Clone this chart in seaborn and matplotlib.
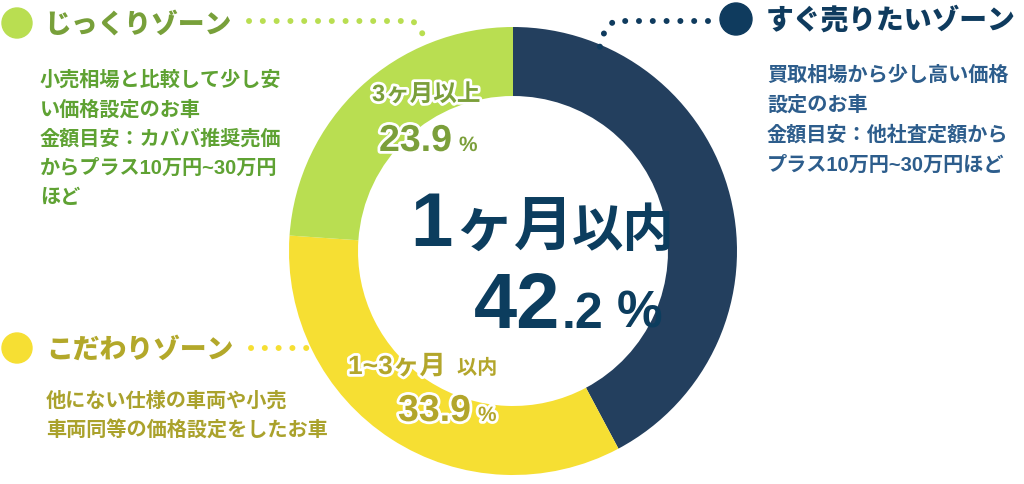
import matplotlib
matplotlib.use("Agg")
import matplotlib.pyplot as plt
import matplotlib.patheffects as pe
import seaborn as sns

sns.set_theme(style="white")
plt.rcParams['font.family'] = ['Noto Sans CJK JP', 'DejaVu Sans']

# ---- data ----
segments = ["1ヶ月以内", "1~3ヶ月以内", "3ヶ月以上"]
shares = [42.2, 33.9, 23.9]
seg_colors = ["#233f5e", "#f6df33", "#b9de51"]

zone_titles = ["すぐ売りたいゾーン", "こだわりゾーン", "じっくりゾーン"]
zone_desc = [
    ["買取相場から少し高い価格", "設定のお車", "金額目安：他社査定額から", "プラス10万円~30万円ほど"],
    ["他にない仕様の車両や小売", "車両同等の価格設定をしたお車"],
    ["小売相場と比較して少し安", "い価格設定のお車", "金額目安：カババ推奨売価", "からプラス10万円~30万円", "ほど"],
]
title_colors = ["#0f3b5e", "#b3a82a", "#78a03a"]
desc_colors = ["#2d5d8c", "#aaa22c", "#5fa233"]
label_colors = ["#0c3d5e", "#b3a62b", "#7b9f3a"]

SANS = ['Liberation Sans', 'Noto Sans CJK JP', 'DejaVu Sans']
CJK = ['Noto Sans CJK JP', 'DejaVu Sans']

W, H = 1024, 485
fig = plt.figure(figsize=(W / 100, H / 100), dpi=100)
ax = fig.add_axes([0, 0, 1, 1])

cx, cy, R = 513, 252, 224
ax.pie(shares, colors=seg_colors, startangle=270, counterclock=True,
       center=(cx, cy), radius=R, wedgeprops=dict(width=69, linewidth=0))
ax.set_xlim(0, W)
ax.set_ylim(H, 0)
ax.set_aspect('equal')
ax.axis('off')

stroke = [pe.withStroke(linewidth=4, foreground="white")]

# ---- center label ----
c0 = label_colors[0]
ax.text(410, 246, "1", fontsize=55, fontweight='bold', color=c0, va='baseline', ha='left', family=SANS)
ax.text(454, 246, "ヶ月", fontsize=43, fontweight='bold', color=c0, va='baseline', ha='left', family=CJK)
ax.text(572, 246, "以内", fontsize=37, fontweight='bold', color=c0, va='baseline', ha='left', family=CJK)
ip, dp = f"{shares[0]:.1f}".split(".")
ax.text(474, 328, ip, fontsize=56, fontweight='bold', color=c0, va='baseline', ha='left', family=SANS)
ax.text(562, 328, "." + dp, fontsize=36, fontweight='bold', color=c0, va='baseline', ha='left', family=SANS)
ax.text(617, 328, "%", fontsize=37, fontweight='bold', color=c0, va='baseline', ha='left', family=SANS)

# ---- 3ヶ月以上 label ----
c2 = label_colors[2]
ax.text(372, 102, "3", fontsize=17, fontweight='bold', color=c2, va='baseline', ha='left',
        family=SANS, path_effects=stroke)
ax.text(386, 102, "ヶ月以上", fontsize=17, fontweight='bold', color=c2, va='baseline', ha='left',
        family=CJK, path_effects=stroke)
ax.text(379, 152, f"{shares[2]:.1f}", fontsize=27, fontweight='bold', color=c2,
        va='baseline', ha='left', family=SANS, path_effects=stroke)
ax.text(459, 152, "%", fontsize=15, fontweight='bold', color=c2,
        va='baseline', ha='left', family=SANS, path_effects=stroke)

# ---- 1~3ヶ月以内 label ----
c1 = label_colors[1]
ax.text(348, 375, "1~3", fontsize=19, fontweight='bold', color=c1,
        va='baseline', ha='left', family=SANS, path_effects=stroke)
ax.text(393, 375, "ヶ月", fontsize=19, fontweight='bold', color=c1,
        va='baseline', ha='left', family=CJK, path_effects=stroke)
ax.text(457, 375, "以内", fontsize=14.5, fontweight='bold', color=c1,
        va='baseline', ha='left', family=CJK, path_effects=stroke)
ax.text(398, 422, f"{shares[1]:.1f}", fontsize=27, fontweight='bold', color=c1,
        va='baseline', ha='left', family=SANS, path_effects=stroke)
ax.text(478, 422, "%", fontsize=15, fontweight='bold', color=c1,
        va='baseline', ha='left', family=SANS, path_effects=stroke)

# ---- zone headers ----
dots = dict(linestyle=(0, (0.01, 2.3)), dash_capstyle='round', linewidth=4.3)
TW = 'black'
# navy (right)
ax.add_patch(plt.Circle((736, 20), 16, color=title_colors[0]))
ax.text(766, 20, zone_titles[0], fontsize=20, fontweight=TW, color=title_colors[0], va='center', ha='left', family=CJK)
ax.plot([708, 614, 605, 601, 597], [22, 22, 31, 44, 57], color=title_colors[0], **dots)
for i, line in enumerate(zone_desc[0]):
    ax.text(767, 75 + i * 30, line, fontsize=14.5, fontweight='bold', color=desc_colors[0],
            va='center', ha='left', family=SANS)

# green (top left)
ax.add_patch(plt.Circle((17, 24), 15, color=seg_colors[2]))
ax.text(44, 24, zone_titles[2], fontsize=19.3, fontweight=TW, color=title_colors[2], va='center', ha='left', family=CJK)
ax.plot([249, 413, 421, 428], [22, 22, 32, 45], color=seg_colors[2], **dots)
for i, line in enumerate(zone_desc[2]):
    ax.text(40, 80 + i * 29.5, line, fontsize=14.5, fontweight='bold', color=desc_colors[2],
            va='center', ha='left', family=SANS)

# yellow (bottom left)
ax.add_patch(plt.Circle((17, 349), 15, color=seg_colors[1]))
ax.text(46, 349, zone_titles[1], fontsize=19.3, fontweight=TW, color=title_colors[1], va='center', ha='left', family=CJK)
ax.plot([251, 312], [349, 349], color=seg_colors[1], **dots)
for i, line in enumerate(zone_desc[1]):
    ax.text(46, 401 + i * 29, line, fontsize=14.5, fontweight='bold', color=desc_colors[1],
            va='center', ha='left', family=SANS)

fig.savefig("out.png", dpi=100, facecolor="white")
